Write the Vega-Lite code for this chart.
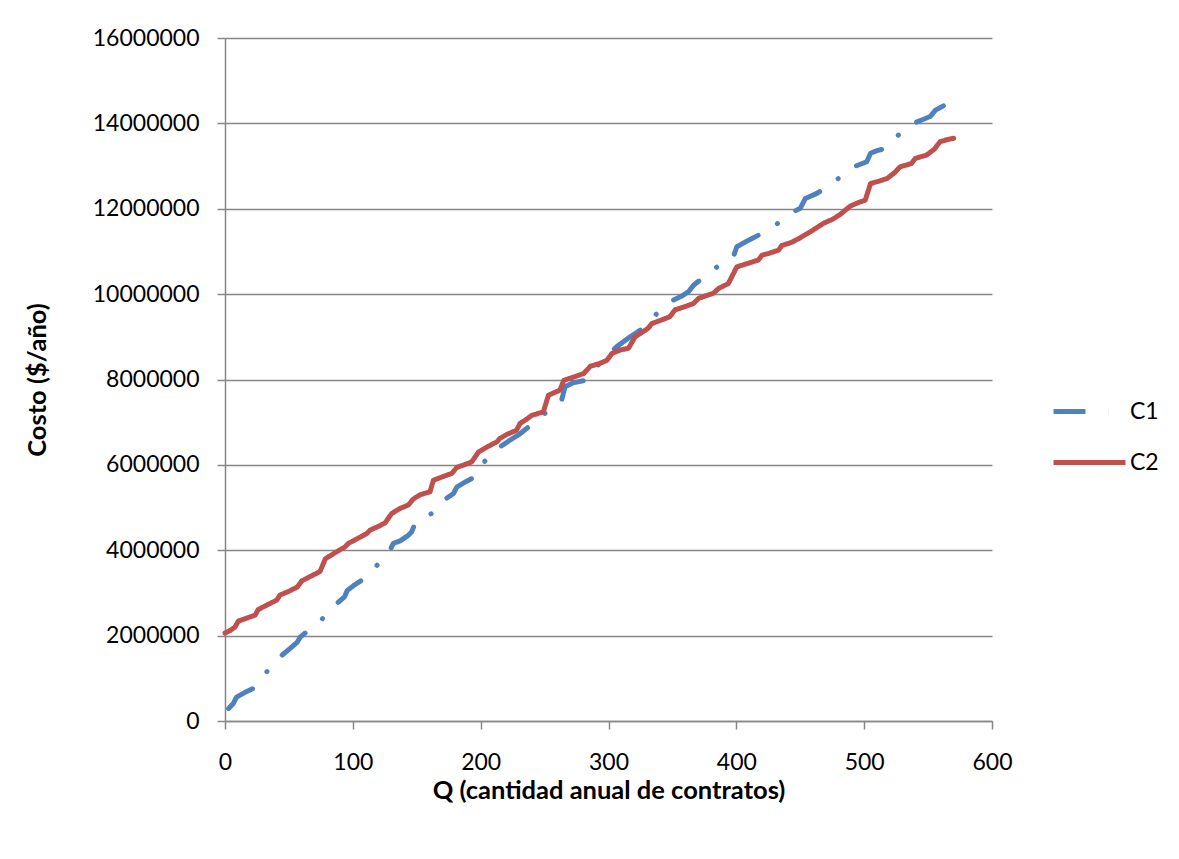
{
  "$schema": "https://vega.github.io/schema/vega-lite/v6.json",
  "autosize": {"type": "none"},
  "width": 767,
  "height": 683,
  "padding": {"left": 225, "top": 38, "right": 187, "bottom": 138},
  "background": "white",
  "config": {
    "font": "Lato",
    "view": {"stroke": null},
    "axis": {
      "labelFont": "Lato",
      "labelFontSize": 23,
      "labelColor": "#000000",
      "titleFont": "Lato",
      "titleFontSize": 25.5,
      "titleFontWeight": "bold",
      "titleColor": "#000000",
      "domainColor": "#868686",
      "domainWidth": 1.5,
      "tickColor": "#868686",
      "tickWidth": 1.5,
      "tickSize": 8,
      "gridColor": "#868686",
      "gridWidth": 1.5
    },
    "legend": {
      "labelFont": "Lato",
      "labelFontSize": 23,
      "labelColor": "#000000"
    }
  },
  "data": {
    "values": [
      {"Q": 0, "costo": 210000, "serie": "C1"},
      {"Q": 3, "costo": 300000, "serie": "C1"},
      {"Q": 6.5, "costo": 410000, "serie": "C1"},
      {"Q": 8, "costo": 500000, "serie": "C1"},
      {"Q": 9, "costo": 560000, "serie": "C1"},
      {"Q": 15, "costo": 660000, "serie": "C1"},
      {"Q": 22, "costo": 760000, "serie": "C1"},
      {"Q": 32, "costo": 1130000, "serie": "C1"},
      {"Q": 42.5, "costo": 1490000, "serie": "C1"},
      {"Q": 51, "costo": 1700000, "serie": "C1"},
      {"Q": 56.6, "costo": 1850000, "serie": "C1"},
      {"Q": 59, "costo": 1970000, "serie": "C1"},
      {"Q": 62.6, "costo": 2060000, "serie": "C1"},
      {"Q": 75.7, "costo": 2380000, "serie": "C1"},
      {"Q": 86.7, "costo": 2730000, "serie": "C1"},
      {"Q": 93.5, "costo": 2910000, "serie": "C1"},
      {"Q": 95.7, "costo": 3060000, "serie": "C1"},
      {"Q": 101, "costo": 3180000, "serie": "C1"},
      {"Q": 107, "costo": 3300000, "serie": "C1"},
      {"Q": 118.7, "costo": 3640000, "serie": "C1"},
      {"Q": 129, "costo": 4000000, "serie": "C1"},
      {"Q": 131.7, "costo": 4160000, "serie": "C1"},
      {"Q": 137, "costo": 4220000, "serie": "C1"},
      {"Q": 143.4, "costo": 4350000, "serie": "C1"},
      {"Q": 146, "costo": 4430000, "serie": "C1"},
      {"Q": 148.7, "costo": 4630000, "serie": "C1"},
      {"Q": 161.7, "costo": 4860000, "serie": "C1"},
      {"Q": 173, "costo": 5210000, "serie": "C1"},
      {"Q": 178.8, "costo": 5330000, "serie": "C1"},
      {"Q": 181.3, "costo": 5480000, "serie": "C1"},
      {"Q": 188, "costo": 5600000, "serie": "C1"},
      {"Q": 195.6, "costo": 5720000, "serie": "C1"},
      {"Q": 204.2, "costo": 6130000, "serie": "C1"},
      {"Q": 215, "costo": 6420000, "serie": "C1"},
      {"Q": 222, "costo": 6560000, "serie": "C1"},
      {"Q": 229.5, "costo": 6700000, "serie": "C1"},
      {"Q": 240, "costo": 6950000, "serie": "C1"},
      {"Q": 250, "costo": 7200000, "serie": "C1"},
      {"Q": 258, "costo": 7350000, "serie": "C1"},
      {"Q": 263.4, "costo": 7520000, "serie": "C1"},
      {"Q": 266, "costo": 7830000, "serie": "C1"},
      {"Q": 272, "costo": 7920000, "serie": "C1"},
      {"Q": 281.7, "costo": 7980000, "serie": "C1"},
      {"Q": 285.6, "costo": 8140000, "serie": "C1"},
      {"Q": 293.4, "costo": 8380000, "serie": "C1"},
      {"Q": 300, "costo": 8600000, "serie": "C1"},
      {"Q": 306.5, "costo": 8770000, "serie": "C1"},
      {"Q": 317, "costo": 9000000, "serie": "C1"},
      {"Q": 322, "costo": 9100000, "serie": "C1"},
      {"Q": 327, "costo": 9200000, "serie": "C1"},
      {"Q": 338, "costo": 9550000, "serie": "C1"},
      {"Q": 350.6, "costo": 9860000, "serie": "C1"},
      {"Q": 357, "costo": 9950000, "serie": "C1"},
      {"Q": 362.4, "costo": 10050000, "serie": "C1"},
      {"Q": 366.5, "costo": 10210000, "serie": "C1"},
      {"Q": 371.7, "costo": 10330000, "serie": "C1"},
      {"Q": 384.6, "costo": 10630000, "serie": "C1"},
      {"Q": 397.6, "costo": 10870000, "serie": "C1"},
      {"Q": 400.4, "costo": 11110000, "serie": "C1"},
      {"Q": 410, "costo": 11270000, "serie": "C1"},
      {"Q": 418.6, "costo": 11400000, "serie": "C1"},
      {"Q": 432.6, "costo": 11660000, "serie": "C1"},
      {"Q": 444.8, "costo": 11930000, "serie": "C1"},
      {"Q": 450, "costo": 12010000, "serie": "C1"},
      {"Q": 452.6, "costo": 12160000, "serie": "C1"},
      {"Q": 454, "costo": 12240000, "serie": "C1"},
      {"Q": 463, "costo": 12360000, "serie": "C1"},
      {"Q": 467, "costo": 12440000, "serie": "C1"},
      {"Q": 479.4, "costo": 12700000, "serie": "C1"},
      {"Q": 491.7, "costo": 12980000, "serie": "C1"},
      {"Q": 502, "costo": 13100000, "serie": "C1"},
      {"Q": 505, "costo": 13300000, "serie": "C1"},
      {"Q": 510, "costo": 13360000, "serie": "C1"},
      {"Q": 516.6, "costo": 13410000, "serie": "C1"},
      {"Q": 526.5, "costo": 13720000, "serie": "C1"},
      {"Q": 538.8, "costo": 14000000, "serie": "C1"},
      {"Q": 545, "costo": 14080000, "serie": "C1"},
      {"Q": 551.6, "costo": 14160000, "serie": "C1"},
      {"Q": 555.8, "costo": 14310000, "serie": "C1"},
      {"Q": 562, "costo": 14410000, "serie": "C1"},
      {"Q": 0, "costo": 2060000, "serie": "C2"},
      {"Q": 4, "costo": 2120000, "serie": "C2"},
      {"Q": 7.8, "costo": 2200000, "serie": "C2"},
      {"Q": 10.4, "costo": 2340000, "serie": "C2"},
      {"Q": 17, "costo": 2410000, "serie": "C2"},
      {"Q": 23.5, "costo": 2480000, "serie": "C2"},
      {"Q": 26, "costo": 2610000, "serie": "C2"},
      {"Q": 33, "costo": 2720000, "serie": "C2"},
      {"Q": 40.4, "costo": 2830000, "serie": "C2"},
      {"Q": 43, "costo": 2950000, "serie": "C2"},
      {"Q": 50, "costo": 3040000, "serie": "C2"},
      {"Q": 56.6, "costo": 3140000, "serie": "C2"},
      {"Q": 60, "costo": 3280000, "serie": "C2"},
      {"Q": 67, "costo": 3390000, "serie": "C2"},
      {"Q": 74.3, "costo": 3500000, "serie": "C2"},
      {"Q": 78.5, "costo": 3800000, "serie": "C2"},
      {"Q": 86, "costo": 3940000, "serie": "C2"},
      {"Q": 93.9, "costo": 4080000, "serie": "C2"},
      {"Q": 96.5, "costo": 4160000, "serie": "C2"},
      {"Q": 104, "costo": 4280000, "serie": "C2"},
      {"Q": 110.8, "costo": 4390000, "serie": "C2"},
      {"Q": 113.5, "costo": 4470000, "serie": "C2"},
      {"Q": 120, "costo": 4560000, "serie": "C2"},
      {"Q": 125.2, "costo": 4640000, "serie": "C2"},
      {"Q": 130.4, "costo": 4860000, "serie": "C2"},
      {"Q": 137, "costo": 4980000, "serie": "C2"},
      {"Q": 143.4, "costo": 5060000, "serie": "C2"},
      {"Q": 147.3, "costo": 5200000, "serie": "C2"},
      {"Q": 152.6, "costo": 5300000, "serie": "C2"},
      {"Q": 160.4, "costo": 5370000, "serie": "C2"},
      {"Q": 163, "costo": 5640000, "serie": "C2"},
      {"Q": 170, "costo": 5720000, "serie": "C2"},
      {"Q": 177.4, "costo": 5800000, "serie": "C2"},
      {"Q": 181.3, "costo": 5940000, "serie": "C2"},
      {"Q": 187, "costo": 6000000, "serie": "C2"},
      {"Q": 193, "costo": 6070000, "serie": "C2"},
      {"Q": 198.3, "costo": 6300000, "serie": "C2"},
      {"Q": 205, "costo": 6420000, "serie": "C2"},
      {"Q": 212.7, "costo": 6540000, "serie": "C2"},
      {"Q": 215, "costo": 6620000, "serie": "C2"},
      {"Q": 221, "costo": 6720000, "serie": "C2"},
      {"Q": 228, "costo": 6810000, "serie": "C2"},
      {"Q": 230.8, "costo": 6970000, "serie": "C2"},
      {"Q": 236, "costo": 7070000, "serie": "C2"},
      {"Q": 240, "costo": 7160000, "serie": "C2"},
      {"Q": 249, "costo": 7240000, "serie": "C2"},
      {"Q": 253, "costo": 7630000, "serie": "C2"},
      {"Q": 258, "costo": 7700000, "serie": "C2"},
      {"Q": 262, "costo": 7750000, "serie": "C2"},
      {"Q": 265, "costo": 7980000, "serie": "C2"},
      {"Q": 273, "costo": 8060000, "serie": "C2"},
      {"Q": 280.6, "costo": 8140000, "serie": "C2"},
      {"Q": 285.8, "costo": 8310000, "serie": "C2"},
      {"Q": 293.4, "costo": 8380000, "serie": "C2"},
      {"Q": 298.8, "costo": 8450000, "serie": "C2"},
      {"Q": 302.7, "costo": 8610000, "serie": "C2"},
      {"Q": 309, "costo": 8690000, "serie": "C2"},
      {"Q": 315.6, "costo": 8730000, "serie": "C2"},
      {"Q": 320.8, "costo": 9000000, "serie": "C2"},
      {"Q": 326, "costo": 9100000, "serie": "C2"},
      {"Q": 331, "costo": 9200000, "serie": "C2"},
      {"Q": 333.9, "costo": 9310000, "serie": "C2"},
      {"Q": 341, "costo": 9390000, "serie": "C2"},
      {"Q": 348, "costo": 9470000, "serie": "C2"},
      {"Q": 352, "costo": 9630000, "serie": "C2"},
      {"Q": 359, "costo": 9700000, "serie": "C2"},
      {"Q": 366.5, "costo": 9780000, "serie": "C2"},
      {"Q": 370.4, "costo": 9900000, "serie": "C2"},
      {"Q": 376, "costo": 9960000, "serie": "C2"},
      {"Q": 382, "costo": 10020000, "serie": "C2"},
      {"Q": 386, "costo": 10130000, "serie": "C2"},
      {"Q": 393.8, "costo": 10250000, "serie": "C2"},
      {"Q": 400.4, "costo": 10640000, "serie": "C2"},
      {"Q": 409, "costo": 10720000, "serie": "C2"},
      {"Q": 417.3, "costo": 10800000, "serie": "C2"},
      {"Q": 420, "costo": 10910000, "serie": "C2"},
      {"Q": 427, "costo": 10970000, "serie": "C2"},
      {"Q": 433, "costo": 11030000, "serie": "C2"},
      {"Q": 435.6, "costo": 11140000, "serie": "C2"},
      {"Q": 443, "costo": 11210000, "serie": "C2"},
      {"Q": 450, "costo": 11320000, "serie": "C2"},
      {"Q": 460, "costo": 11500000, "serie": "C2"},
      {"Q": 468.2, "costo": 11660000, "serie": "C2"},
      {"Q": 475, "costo": 11750000, "serie": "C2"},
      {"Q": 481, "costo": 11860000, "serie": "C2"},
      {"Q": 489, "costo": 12060000, "serie": "C2"},
      {"Q": 495, "costo": 12140000, "serie": "C2"},
      {"Q": 500.8, "costo": 12200000, "serie": "C2"},
      {"Q": 505, "costo": 12590000, "serie": "C2"},
      {"Q": 512, "costo": 12650000, "serie": "C2"},
      {"Q": 518, "costo": 12710000, "serie": "C2"},
      {"Q": 524, "costo": 12850000, "serie": "C2"},
      {"Q": 528, "costo": 12980000, "serie": "C2"},
      {"Q": 537, "costo": 13060000, "serie": "C2"},
      {"Q": 540, "costo": 13180000, "serie": "C2"},
      {"Q": 549, "costo": 13260000, "serie": "C2"},
      {"Q": 555, "costo": 13400000, "serie": "C2"},
      {"Q": 559.4, "costo": 13570000, "serie": "C2"},
      {"Q": 565, "costo": 13620000, "serie": "C2"},
      {"Q": 570, "costo": 13650000, "serie": "C2"}
    ]
  },
  "mark": {"type": "line", "strokeWidth": 5, "strokeCap": "round", "strokeJoin": "round", "interpolate": "linear", "strokeDashOffset": 72},
  "encoding": {
    "x": {
      "field": "Q", "type": "quantitative",
      "scale": {"domain": [0, 600], "nice": false, "zero": false},
      "axis": {"values": [0, 100, 200, 300, 400, 500, 600], "grid": false, "title": "Q (cantidad anual de contratos)", "labelPadding": 22, "titlePadding": 4, "labelFlush": false}
    },
    "y": {
      "field": "costo", "type": "quantitative",
      "scale": {"domain": [0, 16000000], "nice": false},
      "axis": {"values": [0, 2000000, 4000000, 6000000, 8000000, 10000000, 12000000, 14000000, 16000000], "format": "d", "title": "Costo ($/año)", "labelPadding": 18, "titlePadding": 42, "labelFlush": false}
    },
    "color": {
      "field": "serie", "type": "nominal", "title": null,
      "scale": {"domain": ["C1", "C2"], "range": ["#4F81BD", "#C0504D"]},
      "legend": {"orient": "none", "legendX": 826, "legendY": 335, "symbolType": "stroke", "symbolSize": 5184, "symbolStrokeWidth": 5, "labelOffset": 2, "rowPadding": -2}
    },
    "strokeDash": {
      "field": "serie", "type": "nominal", "title": null,
      "scale": {"domain": ["C1", "C2"], "range": [[32, 22.5, 0.1, 22.5], [1, 0]]}
    },
    "order": {"field": "Q", "type": "quantitative"}
  }
}
